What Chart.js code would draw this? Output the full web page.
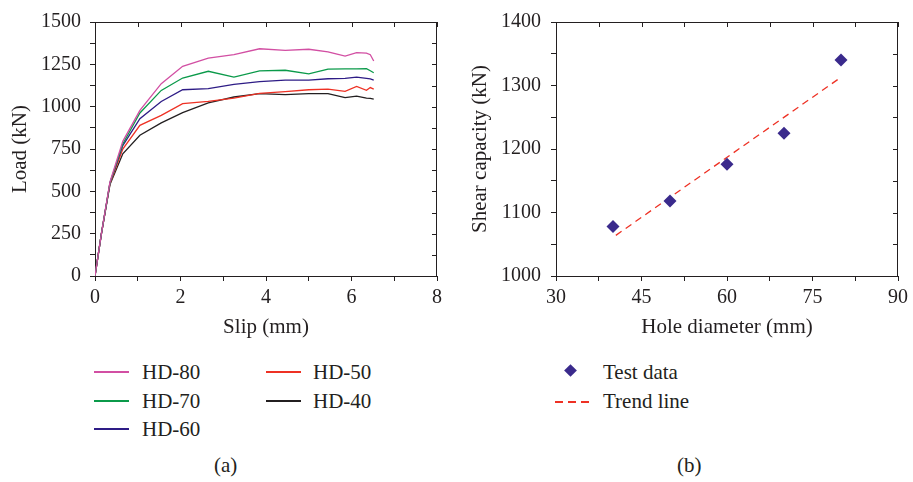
<!DOCTYPE html>
<html>
<head>
    <title>Load-slip curves and shear capacity</title>
    <script src="https://cdn.jsdelivr.net/npm/chart.js"></script>
    <style>
      body { margin: 0; background: #fff; font-family: "Liberation Serif", serif; color: #231f20; }
      #wrap { position: relative; width: 913px; height: 482px; }
      canvas { position: absolute; top: 0; }
      .lbl { position: absolute; font-size: 21px; line-height: 24px; white-space: nowrap; }
      .sw { position: absolute; height: 1.5px; width: 35px; }
    </style>
</head>
<body>
<div id="wrap">
    <canvas id="slipChart" style="left:0px" width="456" height="340"></canvas>
    <canvas id="holeChart" style="left:456px" width="457" height="340"></canvas>

    <div class="sw" style="left:94px;top:371px;background:#d24fa3"></div>
    <div class="lbl" style="left:142px;top:360px">HD-80</div>
    <div class="sw" style="left:94px;top:400px;background:#0b9a4a"></div>
    <div class="lbl" style="left:142px;top:389px">HD-70</div>
    <div class="sw" style="left:94px;top:428px;background:#2e1c86"></div>
    <div class="lbl" style="left:142px;top:417px">HD-60</div>
    <div class="sw" style="left:266px;top:371px;background:#ee3124"></div>
    <div class="lbl" style="left:313px;top:360px">HD-50</div>
    <div class="sw" style="left:266px;top:400px;background:#231f20"></div>
    <div class="lbl" style="left:313px;top:389px">HD-40</div>
    <div class="lbl" style="left:214px;top:453px">(a)</div>

    <div style="position:absolute;left:566px;top:366px;width:9px;height:9px;background:#3a2a8c;transform:rotate(45deg)"></div>
    <div class="lbl" style="left:603px;top:360px">Test data</div>
    <div class="sw" style="left:555px;top:401px;width:36px;background:repeating-linear-gradient(to right,#ee3124 0 8px,transparent 8px 13px)"></div>
    <div class="lbl" style="left:603px;top:389px">Trend line</div>
    <div class="lbl" style="left:677px;top:453px">(b)</div>
</div>

<script>
// (a) load-slip curves
const slip = [0, 0.15, 0.35, 0.65, 1.05, 1.55, 2.05, 2.65, 3.25, 3.85, 4.45, 5.0, 5.45, 5.85, 6.12, 6.35, 6.44, 6.52];
const hd80 = [0, 250, 555, 795, 978, 1136, 1238, 1287, 1307, 1342, 1333, 1339, 1323, 1299, 1319, 1316, 1307, 1270];
const hd70 = [0, 250, 550, 780, 963, 1096, 1169, 1209, 1175, 1211, 1215, 1194, 1222, 1223, 1223, 1224, 1212, 1200];
const hd60 = [0, 250, 550, 770, 929, 1031, 1100, 1106, 1132, 1148, 1157, 1157, 1165, 1167, 1175, 1167, 1164, 1157];
const hd50 = [0, 250, 545, 750, 890, 949, 1018, 1031, 1051, 1079, 1089, 1100, 1104, 1090, 1119, 1097, 1113, 1104];
const hd40 = [0, 250, 540, 722, 831, 904, 965, 1022, 1057, 1077, 1071, 1077, 1077, 1053, 1062, 1051, 1049, 1045];

// (b) shear capacity vs hole diameter
const holeDia = [40, 50, 60, 70, 80];
const capacity = [1078, 1118, 1176, 1225, 1340];
const trendX = [40.5, 80];
const trendY = [1064, 1313];

const ink = '#231f20';
const tickFont = { family: 'Liberation Serif', size: 20 };
const titleFont = { family: 'Liberation Serif', size: 21 };

function pts(xs, ys) { return xs.map((x, i) => ({ x: x, y: ys[i] })); }

// box round the plot with inward ticks on top and right
const frame = {
  id: 'frame',
  afterDraw(chart) {
    const { ctx, chartArea: a, scales } = chart;
    ctx.save();
    ctx.strokeStyle = ink;
    ctx.lineWidth = 1;
    ctx.beginPath();
    ctx.moveTo(a.left, a.top + 0.5); ctx.lineTo(a.right, a.top + 0.5);
    ctx.moveTo(a.right - 0.5, a.top); ctx.lineTo(a.right - 0.5, a.bottom);
    scales.x.ticks.forEach(t => {
      const px = Math.round(scales.x.getPixelForValue(t.value)) + 0.5;
      ctx.moveTo(px, a.top); ctx.lineTo(px, a.top + 5);
    });
    scales.y.ticks.forEach(t => {
      const py = Math.round(scales.y.getPixelForValue(t.value)) + 0.5;
      ctx.moveTo(a.right, py); ctx.lineTo(a.right - 5, py);
    });
    ctx.stroke();
    ctx.restore();
  }
};

function axis(min, max, step, major, title, titlePad, tickPad, fit) {
  return {
    type: 'linear', min: min, max: max,
    border: { display: true, color: ink, width: 1 },
    grid: { drawOnChartArea: false, drawTicks: true, tickLength: 5, color: ink },
    ticks: {
      stepSize: step, autoSkip: false, color: ink, font: tickFont, padding: tickPad,
      callback: v => (Math.abs(v / major - Math.round(v / major)) < 1e-6 ? v : '')
    },
    title: { display: true, text: title, color: ink, font: titleFont, padding: titlePad },
    afterFit: fit
  };
}

const line = (label, data, color) => ({
  label: label, data: pts(slip, data), borderColor: color, backgroundColor: color,
  borderWidth: 1.3, pointRadius: 0, fill: false, tension: 0
});

new Chart(document.getElementById('slipChart'), {
  type: 'line',
  data: {
    datasets: [
      line('HD-80', hd80, '#d24fa3'),
      line('HD-70', hd70, '#0b9a4a'),
      line('HD-60', hd60, '#2e1c86'),
      line('HD-50', hd50, '#ee3124'),
      line('HD-40', hd40, '#231f20')
    ]
  },
  options: {
    responsive: false, animation: false,
    layout: { padding: { left: 0, top: 22, right: 19, bottom: 0 } },
    plugins: { legend: { display: false }, tooltip: { enabled: false } },
    scales: {
      x: axis(0, 8, 1, 2, 'Slip (mm)', { top: 0, bottom: 0 }, 5, s => { s.height = 64; }),
      y: axis(0, 1500, 125, 250, 'Load (kN)', { top: 8, bottom: 0 }, 9, s => { s.width = 95; })
    }
  },
  plugins: [frame]
});

new Chart(document.getElementById('holeChart'), {
  type: 'scatter',
  data: {
    datasets: [{
      label: 'Test data',
      data: pts(holeDia, capacity),
      pointStyle: 'rectRot', pointRadius: 6.5,
      backgroundColor: '#3a2a8c', borderColor: '#3a2a8c', borderWidth: 0,
      order: 0
    }, {
      label: 'Trend line',
      type: 'line',
      data: pts(trendX, trendY),
      borderColor: '#ee3124', borderWidth: 1.3, borderDash: [7, 5],
      pointRadius: 0, fill: false,
      order: 1
    }]
  },
  options: {
    responsive: false, animation: false,
    layout: { padding: { left: 0, top: 22, right: 15, bottom: 0 } },
    plugins: { legend: { display: false }, tooltip: { enabled: false } },
    scales: {
      x: axis(30, 90, 7.5, 15, 'Hole diameter (mm)', { top: 0, bottom: 0 }, 5, s => { s.height = 64; }),
      y: axis(1000, 1400, 50, 100, 'Shear capacity (kN)', { top: 12, bottom: 0 }, 10, s => { s.width = 100; })
    }
  },
  plugins: [frame]
});
</script>
</body>
</html>
